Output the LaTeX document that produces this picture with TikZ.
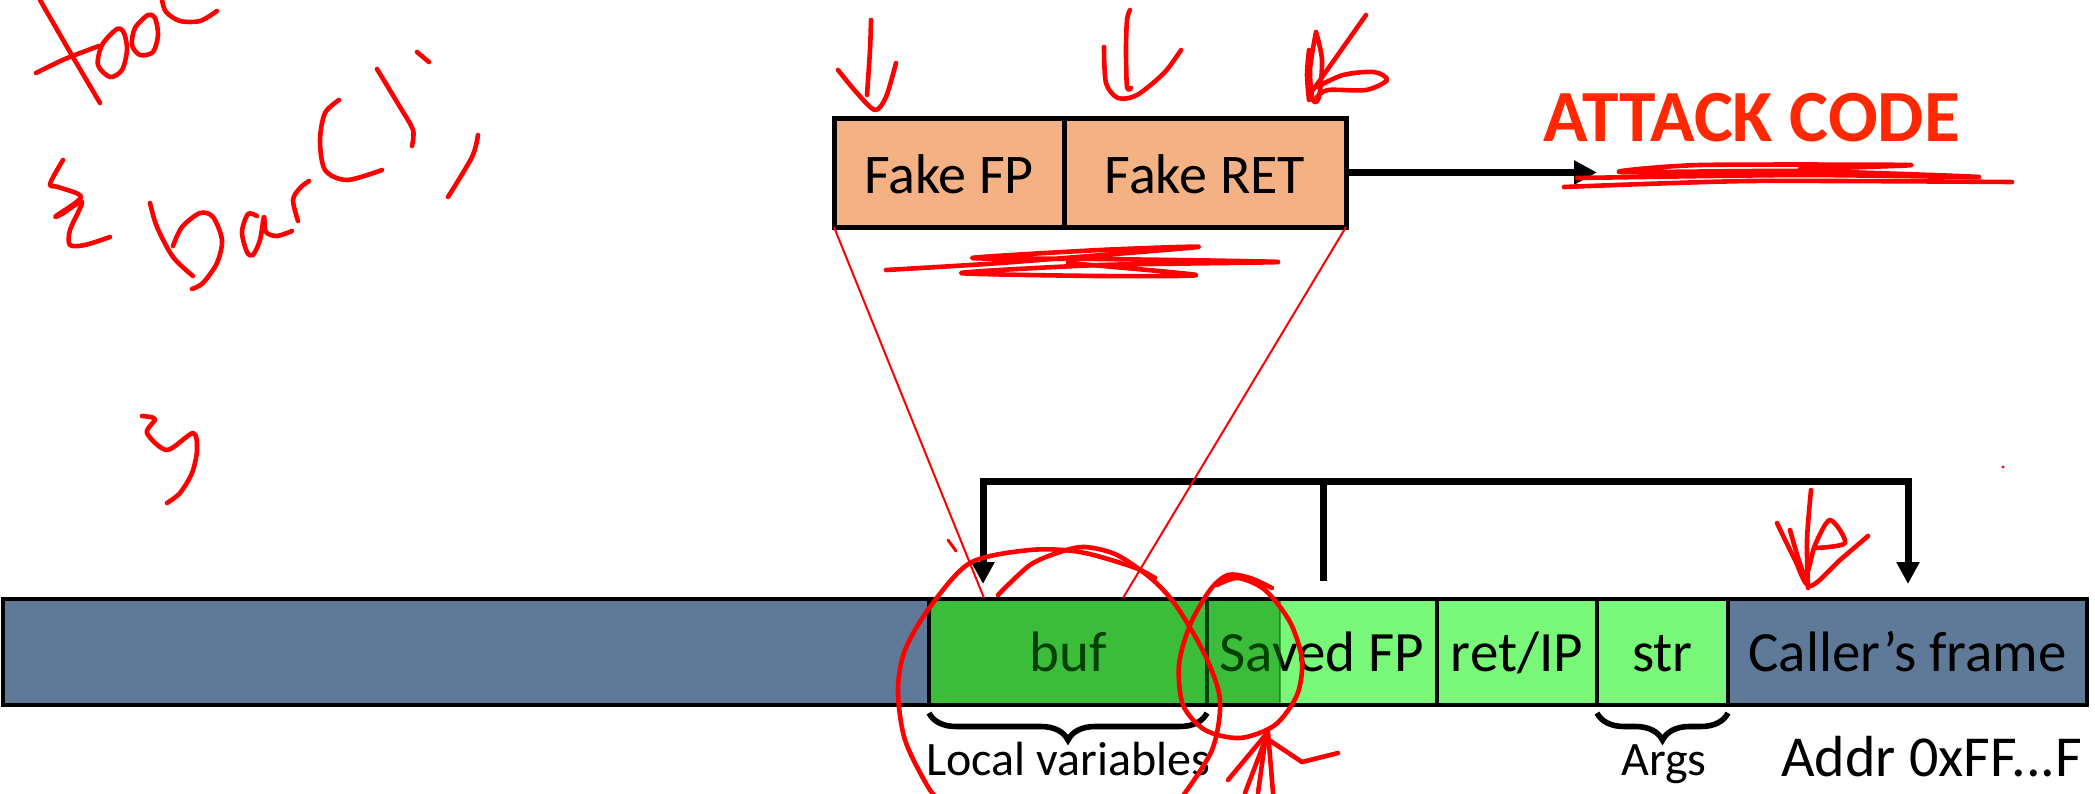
\documentclass[tikz,border=0pt]{standalone}
\usepackage{fontspec}
\setmainfont{Carlito}
\usetikzlibrary{arrows.meta,decorations.pathreplacing}

\definecolor{stackblue}{RGB}{95,121,152}
\definecolor{framegreen}{RGB}{120,247,120}
\definecolor{spill}{RGB}{0,130,0}
\definecolor{fakeorange}{RGB}{244,177,131}
\definecolor{attackred}{RGB}{255,40,0}

\tikzset{
  cell/.style={draw, line width=2.2pt, inner sep=0pt, outer sep=0pt, minimum height=53pt,
    font=\fontsize{28.5}{34}\selectfont, text height=26pt, text depth=6.5pt},
  fake/.style={cell, fill=fakeorange, line width=2.5pt, minimum height=54.5pt,
    font=\fontsize{28}{34}\selectfont, text height=27pt},
  link/.style={line width=3.5pt},
  brace/.style={decorate, decoration={brace, mirror, amplitude=13.5pt}, line width=2.8pt},
  note/.style={font=\fontsize{24}{28}\selectfont, inner sep=0pt},
  pen/.style={red, line width=2.3pt, line cap=round, line join=round},
  guide/.style={red, line width=1pt},
}

\begin{document}
\begin{tikzpicture}[x=0.5pt,y=-0.5pt]
\useasboundingbox (0,0) rectangle (2095,793);
\clip (0,0) rectangle (2095,793);

% stack, low addresses on the left
\node[cell, fill=stackblue, minimum width=463pt] (stack) at (466,652) {};
\node[cell, fill=framegreen, minimum width=139pt] (buf) at (1068,652) {buf};
\node[cell, fill=framegreen, minimum width=115pt] (savedfp) at (1322,652) {Saved FP};
\node[cell, fill=framegreen, minimum width=80pt] (retip) at (1517,652) {ret/IP};
\node[cell, fill=framegreen, minimum width=65.5pt] (strarg) at (1662.5,652) {str};
\node[cell, fill=stackblue, minimum width=179.5pt] (caller) at (1907.5,652) {Caller’s frame};

% buf spilling over into the saved FP
\fill[spill, fill opacity=0.5] ([xshift=1.1pt,yshift=-1.1pt]buf.north west)
  rectangle ([xshift=36.5pt,yshift=1.1pt]savedfp.south west);
\draw[spill!70!black, opacity=0.5, line width=1.2pt]
  ([xshift=36.5pt,yshift=-1.1pt]savedfp.north west) -- ([xshift=36.5pt,yshift=1.1pt]savedfp.south west);

% saved FP links
\coordinate (fpsrc) at (1323,581);
\coordinate (fptop) at (1323,481);
\coordinate (bufptr) at (983,584);
\coordinate (callerptr) at (1908,584);
\draw[link] (fpsrc) -- (fptop);
\draw[link, -{Triangle[length=11pt,width=11pt]}] (fptop) -| (bufptr);
\draw[link, -{Triangle[length=11pt,width=11pt]}] (fptop) -| (callerptr);

% braces and labels under the stack
\draw[brace] ([yshift=-4pt]buf.south west) -- ([yshift=-4pt]buf.south east);
\draw[brace] ([yshift=-4pt]strarg.south west) -- ([yshift=-4pt]strarg.south east);
\node[note, anchor=base] (locals) at (1068,775) {Local variables};
\node[note, anchor=base] (args) at (1664,775) {Args};
\node[note, anchor=base west, font=\fontsize{29}{34}\selectfont] (addr) at (1781,776) {Addr 0xFF...F};

% injected frame
\node[fake, minimum width=115pt] (fakefp) at (949,172.5) {Fake FP};
\node[fake, minimum width=141pt] (fakeret) at (1205,172.5) {Fake RET};
\node[anchor=base west, inner sep=0pt, text=attackred,
  font=\fontsize{36.8}{40}\selectfont\bfseries] (attack) at (1543,141) {ATTACK CODE};
\coordinate (codeptr) at (1597,172.5);
\draw[link, -{Triangle[length=11.5pt,width=11.5pt]}] (fakeret.east) -- (codeptr);

% where the fake frame lands
\coordinate (mapL) at (984,598);
\coordinate (mapR) at (1123,598);
\draw[guide] (fakefp.south west) -- (mapL);
\draw[guide] (fakeret.south east) -- (mapR);

% pen notes: foo( { bar(); }
\draw[pen] plot[smooth] coordinates {(40,0) (70,52) (100,103)};
\draw[pen] plot[smooth] coordinates {(36,73) (65,59) (99,46)};
\draw[pen] plot[smooth cycle] coordinates {(117,29) (102,45) (98,65) (110,77) (122,70) (127,50) (124,33)};
\draw[pen] plot[smooth cycle] coordinates {(148,15) (135,28) (132,45) (140,55) (153,52) (158,35) (155,18)};
\draw[pen] plot[smooth] coordinates {(162,0) (166,12) (180,21) (200,21) (217,11)};
\draw[pen] plot[smooth] coordinates {(63,160) (50,184) (58,187) (81,197) (56,216) (62,214) (82,202) (70,230) (70,245) (85,245) (110,237)};
\draw[pen] plot[smooth] coordinates {(150,203) (157,227) (173,257) (193,276)};
\draw[pen] plot[smooth] coordinates {(173,246) (182,227) (200,213) (213,217) (222,240) (217,263) (203,283) (192,289)};
\draw[pen] plot[smooth] coordinates {(257,216) (248,214) (242,232) (247,252) (253,255) (260,240) (264,217) (266,232) (277,236) (292,231)};
\draw[pen] plot[smooth] coordinates {(298,221) (293,200) (300,188) (309,181)};
\draw[pen] plot[smooth] coordinates {(339,100) (325,113) (320,140) (325,170) (347,180) (382,170)};
\draw[pen] plot[smooth] coordinates {(377,69) (400,107) (413,130) (412,146)};
\draw[pen] (417,52) -- (429,62);
\draw[pen] plot[smooth] coordinates {(478,135) (472,157) (448,197)};
\draw[pen] plot[smooth] coordinates {(142,416) (155,419) (147,433) (167,450) (193,433) (197,450) (192,473) (180,493) (167,503)};

% pen ticks over the fake frame
\draw[pen] plot[smooth] coordinates {(871,20) (870,50) (867,95)};
\draw[pen] plot[smooth] coordinates {(838,70) (857,93) (875,110) (886,97) (896,63)};
\draw[pen] plot[smooth] coordinates {(1130,10) (1127,20) (1126,50) (1127,87) (1131,88)};
\draw[pen] plot[smooth] coordinates {(1104,47) (1106,83) (1118,98) (1137,95) (1164,73) (1181,50)};
\draw[pen] (1366,15) -- (1313,90);
\draw[pen] plot[smooth] coordinates {(1309,50) (1307,75) (1309,100)};
\draw[pen] plot[smooth] coordinates {(1316,32) (1322,60) (1319,97) (1313,100) (1310,70) (1316,32)};
\draw[pen] plot[smooth] coordinates {(1317,87) (1343,75) (1374,72) (1387,80) (1366,90) (1328,90) (1317,97)};
\draw[pen] plot[smooth, tension=0.4] coordinates {(886,270) (1000,263) (1198,247) (1100,250) (972,258) (1100,259) (1278,262) (1100,265) (961,273) (1100,276) (1196,275) (1068,263)};

% underline
\draw[pen] plot[smooth, tension=0.4] coordinates {(1564,187) (1750,181) (2012,182)};
\draw[pen] plot[smooth, tension=0.4] coordinates {(1577,178) (1800,175) (1979,177) (1800,171) (1620,172) (1700,165) (1911,165) (1800,169)};

% circles round buf and the saved FP
\draw[pen] plot[smooth] coordinates {(998,595) (1030,565) (1060,552) (1085,547) (1117,555) (1153,580) (1177,607) (1205,655) (1220,700) (1212,750) (1180,800)};
\draw[pen] plot[smooth] coordinates {(1155,578) (1133,567) (1080,552) (1030,550) (970,563) (930,607) (905,650) (898,690) (905,740) (930,790) (950,810)};
\draw[pen] plot[smooth] coordinates {(1272,588) (1250,578) (1228,575) (1210,590) (1190,625) (1179,665) (1183,705) (1205,730) (1240,738) (1275,725) (1297,695) (1302,660) (1290,622) (1265,590) (1238,578) (1217,585)};
\draw[pen] (1228,780) -- (1268,732) -- (1273,793);
\draw[pen] (1245,793) -- (1266,738) -- (1302,762) -- (1338,753);
\draw[pen] (1258,793) -- (1266,735);

% scribble in the caller's frame
\draw[pen] plot[smooth] coordinates {(1811,490) (1807,540) (1808,588)};
\draw[pen] plot[smooth] coordinates {(1777,523) (1795,560) (1810,586) (1840,560) (1868,536)};
\draw[pen] plot[smooth] coordinates {(1790,530) (1805,575) (1815,545) (1830,520) (1845,543) (1815,548)};
\draw[pen, line width=1.5pt] (948,540) -- (956,551);
\fill[red] (2003,467) circle (0.8pt);
\end{tikzpicture}
\end{document}
